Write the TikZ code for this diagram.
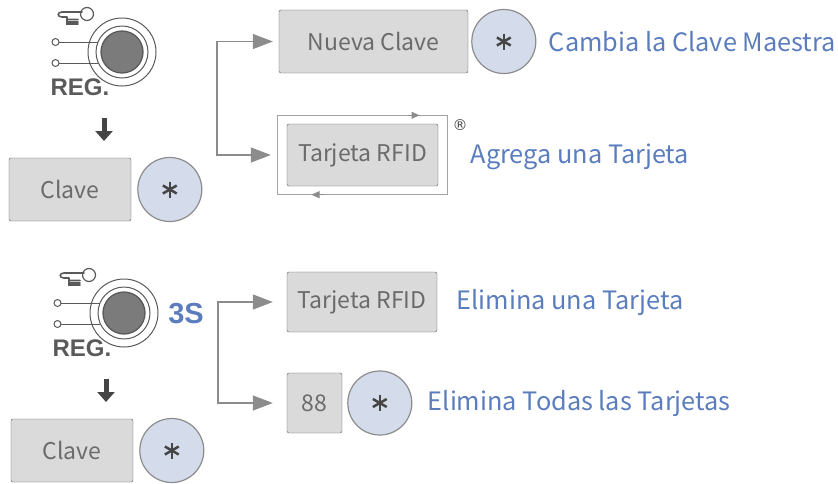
\documentclass[tikz,border=0pt]{standalone}
\usepackage{fontspec}
\setmainfont{Noto Sans CJK SC}
\newfontfamily\regfont{Liberation Sans}
\newfontfamily\markfont{DejaVu Sans}
\usetikzlibrary{arrows.meta, positioning, calc, fit}
\definecolor{keygray}{HTML}{DADADA}
\definecolor{keyline}{HTML}{5A5A5A}
\definecolor{keytext}{HTML}{6B6B6B}
\definecolor{starblue}{HTML}{D4DCEC}
\definecolor{noteblue}{HTML}{5B7DBD}
\definecolor{flowgray}{HTML}{8C8C8C}
\definecolor{btngray}{HTML}{7B7B7B}
\definecolor{darkgray}{HTML}{454545}

\tikzset{
  keybox/.style={draw=keyline, fill=keygray, rounded corners=2pt, text=keytext,
    font=\fontsize{23}{23}\selectfont, inner sep=0pt},
  starkey/.style={circle, draw=flowgray, line width=1.2pt, fill=starblue,
    minimum size=64pt, inner sep=0pt,
    path picture={\foreach \a in {30,90,150}
      \draw[darkgray, line width=2.5pt] ($(path picture bounding box.center)+(\a:8pt)$)
        -- ($(path picture bounding box.center)+(\a:-8pt)$);}},
  note/.style={text=noteblue, font=\fontsize{25.3}{25.3}\selectfont, anchor=west},
  boldtag/.style={font=\regfont\bfseries\fontsize{24}{24}\selectfont},
  flow/.style={flowgray, line width=1.3pt, -{Triangle[length=20pt,width=15pt]}, shorten >=6pt},
  downarrow/.style={darkgray, line width=5pt, -{Triangle[length=10pt,width=17pt]}},
}

\begin{document}
\begin{tikzpicture}[x=1pt, y=-1pt]
    \useasboundingbox (0,0) rectangle (838,483);

    % left column: button, arrow, Clave + star
    \foreach \i/\dx/\dy in {1/0/0, 2/2/261} {
      \begin{scope}[shift={(\dx,\dy)}]
        \coordinate (btn\i) at (122,52);
        \draw[keyline, line width=1pt] (btn\i) circle (34pt) (btn\i) circle (26pt);
        \draw[keyline, fill=btngray, line width=1.3pt] (btn\i) circle (21pt);
        \foreach \yy in {42,63} {
          \draw[keyline, line width=1pt] (98,\yy) -- (58,\yy);
          \draw[keyline, fill=white, line width=1pt] (55.5,\yy) circle (3.5pt);
        }
        % hand
        \draw[keyline, line width=1.2pt] (87,14) circle (6.5pt);
        \draw[keyline, line width=1.6pt, line cap=round]
          (82,12) -- (62,12) .. controls (57,12) and (57,17) .. (62,17) -- (67,17)
          (67,17) -- (67,24) -- (78,24) (68,19.5) -- (78,19.5) (68,22) -- (78,22);
        \node[boldtag, text=keyline] (reg\i) at (80,87) {REG.};

        \coordinate (down\i) at (104,118);
        \coordinate (downend\i) at (104,141);
        \draw[downarrow] (down\i) -- (downend\i);

        \node[keybox, minimum width=122pt, minimum height=63pt] (clave\i) at (70,189.5) {Clave};
        \node[starkey, right=6pt of clave\i] (star\i) {};
      \end{scope}
    }

    % new master code / add card
    \node[keybox, minimum width=189pt, minimum height=63pt] (nueva) at (373.5,41.5) {Nueva Clave};
    \node[starkey, right=3pt of nueva] (starA) {};
    \node[note, right=9pt of starA] (cambia) {Cambia la Clave Maestra};

    \node[keybox, minimum width=151pt, minimum height=62pt] (rfidA) at (362.5,155) {Tarjeta RFID};
    \node[draw=flowgray!80, line width=1pt, fit=(rfidA), inner xsep=9.5pt, inner ysep=8pt] (loopA) {};
    \draw[flowgray, line width=1pt, -{Triangle[length=8pt,width=7pt]}]
      ($(loopA.north)+(45,0)$) -- ($(loopA.north)+(57,0)$);
    \draw[flowgray, line width=1pt, -{Triangle[length=8pt,width=7pt]}]
      ($(loopA.south)+(-39,0)$) -- ($(loopA.south)+(-51,0)$);
    \node[font=\markfont\fontsize{15}{15}\selectfont, text=darkgray, inner sep=0pt] (regmark) at ($(loopA.north east)+(12,10)$) {®};
    \node[note, right=19pt of loopA, yshift=-2pt] (agrega) {Agrega una Tarjeta};

    \coordinate (split1) at (217,98);
    \draw[flow] (split1) |- (nueva.west);
    \draw[flow] (split1) |- (loopA.west);

    % delete one card / delete all
    \node[boldtag, text=noteblue, font=\regfont\bfseries\fontsize{29}{29}\selectfont] (hold) at (186,314) {3S};
    \node[keybox, minimum width=150pt, minimum height=60pt] (rfidB) at (362,302) {Tarjeta RFID};
    \node[keybox, minimum width=55pt, minimum height=60pt] (clear) at (314.5,403) {88};
    \node[starkey, right=5pt of clear] (starB) {};
    \node[note, right=16pt of rfidB] (elimina) {Elimina una Tarjeta};
    \node[note, right=12pt of starB] (todas) {Elimina Todas las Tarjetas};

    \coordinate (split2) at (218,352);
    \draw[flow, shorten >=14pt] (split2) |- (rfidB.west);
    \draw[flow, shorten >=14pt] (split2) |- (clear.west);
\end{tikzpicture}
\end{document}
